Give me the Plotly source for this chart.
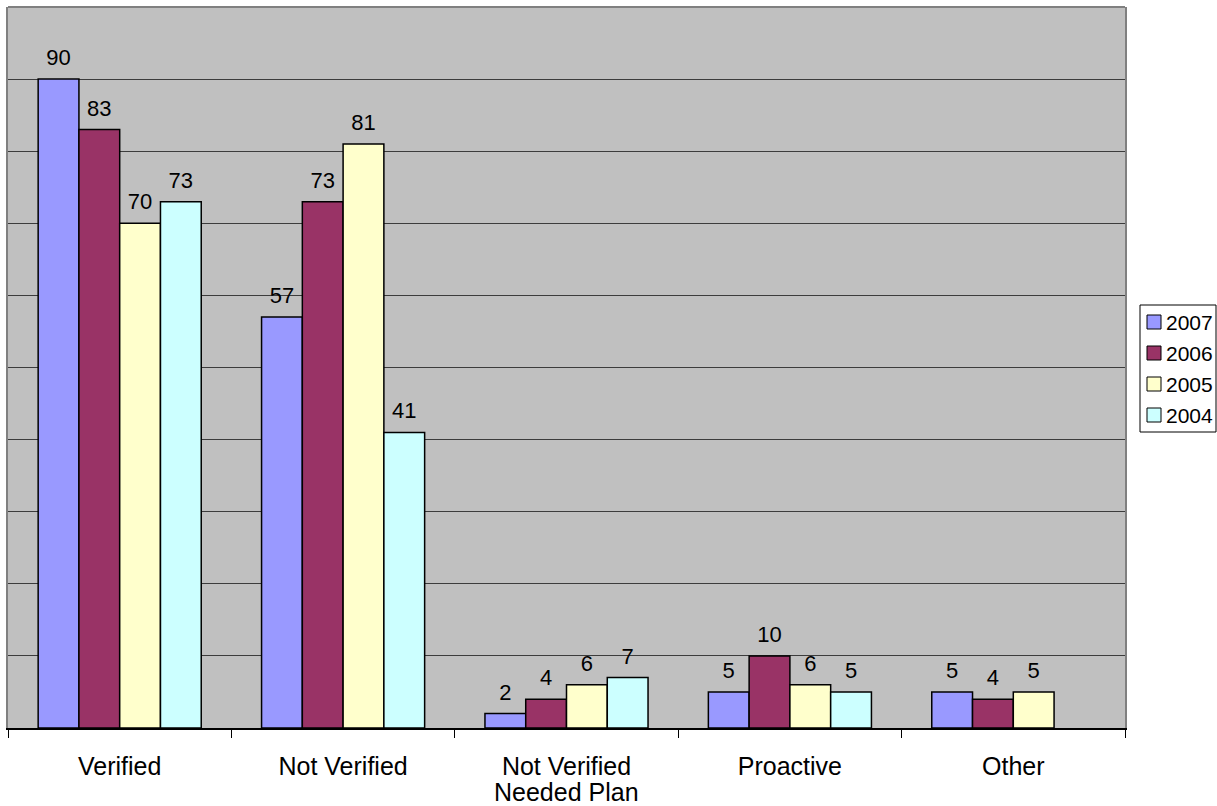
import plotly.graph_objects as go

categories = ["Verified", "Not Verified", "Not Verified Needed Plan", "Proactive", "Other"]
tick_line1 = ["Verified", "Not Verified", "Not Verified", "Proactive", "Other"]
tick_line2 = ["", "", "Needed Plan", "", ""]
years = ["2007", "2006", "2005", "2004"]
values_2007 = [90, 57, 2, 5, 5]
values_2006 = [83, 73, 4, 10, 4]
values_2005 = [70, 81, 6, 6, 5]
values_2004 = [73, 41, 7, 5, None]
colors = ["#9999FF", "#993366", "#FFFFCC", "#CCFFFF"]

series = [values_2007, values_2006, values_2005, values_2004]
FONT = "Liberation Sans, Arial, sans-serif"

fig = go.Figure()
for name, vals, col in zip(years, series, colors):
    fig.add_trace(go.Bar(
        name=name,
        x=categories,
        y=vals,
        offsetgroup=name,
        marker=dict(color=col, line=dict(color="black", width=1.5)),
        showlegend=False,
    ))
    # value labels, grouped alongside the bars (hidden markers give the label gap)
    fig.add_trace(go.Scatter(
        x=categories,
        y=vals,
        offsetgroup=name,
        mode="markers+text",
        marker=dict(size=12, opacity=0),
        text=[("" if v is None else str(v)) for v in vals],
        textposition="top center",
        textfont=dict(family=FONT, size=22, color="black"),
        cliponaxis=False,
        showlegend=False,
        hoverinfo="skip",
    ))

W, H = 1217, 806
ML, MR, MT, MB = 8, 92, 7, 78
pw, ph = W - ML - MR, H - MT - MB


def px_x(px):
    return (px - ML) / pw


def px_y(py):
    return (H - MB - py) / ph


shapes = [
    dict(type="line", xref="paper", yref="paper", x0=0, x1=1, y0=1, y1=1,
         line=dict(color="#808080", width=2)),
    dict(type="rect", xref="paper", yref="paper",
         x0=px_x(1140), x1=px_x(1216), y0=px_y(432), y1=px_y(305),
         line=dict(color="black", width=1), fillcolor="white"),
]
annotations = []

# second line of the wrapped category labels
for cat, extra in zip(categories, tick_line2):
    if extra:
        annotations.append(dict(
            xref="x", yref="paper", x=cat, y=px_y(792),
            xanchor="center", yanchor="middle", showarrow=False,
            text=extra, font=dict(family=FONT, size=25, color="black"),
        ))

# hand-built legend box to the right of the plot area
item_y = [322, 353, 384, 415]
for name, col, cy in zip(years, colors, item_y):
    shapes.append(dict(
        type="rect", xref="paper", yref="paper",
        x0=px_x(1147), x1=px_x(1161), y0=px_y(cy + 7), y1=px_y(cy - 7),
        line=dict(color="black", width=1), fillcolor=col,
    ))
    annotations.append(dict(
        xref="paper", yref="paper", x=px_x(1164), y=px_y(cy),
        xanchor="left", yanchor="middle", showarrow=False,
        text=name, font=dict(family=FONT, size=21, color="black"),
    ))

fig.update_layout(
    width=W,
    height=H,
    margin=dict(l=ML, r=MR, t=MT, b=MB),
    paper_bgcolor="white",
    plot_bgcolor="#C0C0C0",
    barmode="group",
    bargap=0.27,
    bargroupgap=0,
    scattermode="group",
    scattergap=0.27,
    font=dict(family=FONT, color="black"),
    showlegend=False,
    xaxis=dict(
        type="category",
        automargin=False,
        tickmode="array",
        tickvals=categories,
        ticktext=tick_line1,
        showline=True,
        linecolor="black",
        linewidth=1.5,
        ticks="outside",
        tickson="boundaries",
        ticklen=8,
        tickcolor="black",
        tickwidth=1,
        ticklabelstandoff=15,
        tickfont=dict(family=FONT, size=25, color="black"),
        showgrid=False,
        zeroline=False,
    ),
    yaxis=dict(
        range=[0, 100],
        dtick=10,
        automargin=False,
        showticklabels=False,
        showgrid=True,
        gridcolor="#3C3C3C",
        gridwidth=1,
        zeroline=False,
        showline=True,
        linecolor="#808080",
        linewidth=2,
        mirror=True,
        ticks="",
    ),
    shapes=shapes,
    annotations=annotations,
)

fig.write_html("out.html")
